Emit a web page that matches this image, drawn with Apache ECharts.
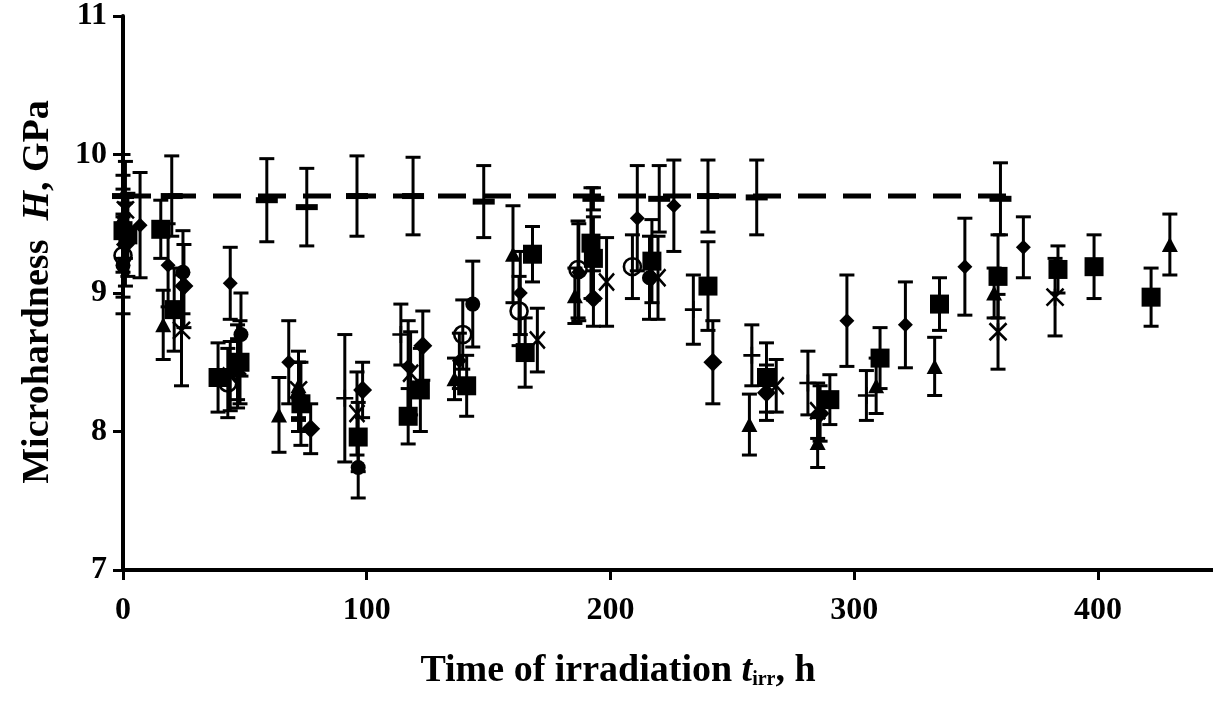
<!DOCTYPE html>
<html><head><meta charset="utf-8">
<script src="https://cdn.jsdelivr.net/npm/echarts@6/dist/echarts.min.js"></script>
<style>html,body{margin:0;padding:0;background:#fff}#c{width:1213px;height:702px}</style>
</head><body><div id="c"></div>
<script>
// ---- data: [time h, microhardness GPa, error GPa] ----
const xTicks = [0, 100, 200, 300, 400];
const yTicks = [7, 8, 9, 10, 11];
const xMax = 447.2;
const refLevel = 9.7;
const refLineRange = [0, 364];
const refPoints = [[0,9.70,0.30],[20,9.70,0.29],[59,9.67,0.30],[75.4,9.62,0.28],[96,9.70,0.29],[119,9.70,0.28],[148,9.66,0.26],[193,9.68,0.08],[220,9.68,0.24],[240,9.70,0.26],[260,9.69,0.27],[360,9.68,0.26]];
const squares = [[0,9.45,0.30],[2,9.42,0.30],[15.5,9.46,0.21],[21,8.88,0.30],[39,8.39,0.25],[48,8.50,0.30],[73,8.20,0.30],[96.5,7.96,0.25],[117,8.11,0.20],[122,8.30,0.30],[141,8.33,0.22],[165,8.57,0.25],[168,9.28,0.20],[192,9.36,0.40],[193,9.25,0.30],[217,9.23,0.30],[240,9.05,0.32],[264,8.39,0.25],[290,8.23,0.18],[310.6,8.53,0.22],[335,8.92,0.19],[359,9.12,0.30],[383.6,9.17,0.17],[398.4,9.19,0.23],[421.8,8.97,0.21]];
const triangles = [[0,9.55,0.30],[16.5,8.77,0.25],[47,8.45,0.22],[64,8.12,0.27],[72,8.33,0.25],[136,8.38,0.15],[160,9.28,0.35],[185.4,8.98,0.20],[257,8.05,0.22],[285,7.92,0.18],[309,8.33,0.20],[333,8.47,0.21],[357.4,9.00,0.18],[429.5,9.35,0.22]];
const smallDiamonds = [[7,9.49,0.38],[18.5,9.20,0.30],[44,9.07,0.26],[68,8.50,0.30],[117,8.47,0.33],[138,8.51,0.20],[163,9.00,0.30],[187,9.15,0.35],[211,9.54,0.38],[226,9.63,0.33],[297,8.80,0.33],[321,8.77,0.31],[345.4,9.19,0.35],[369.4,9.33,0.22]];
const largeDiamonds = [[1,9.35,0.30],[25,9.05,0.30],[77,8.02,0.18],[98.3,8.30,0.20],[123,8.62,0.25],[193,8.96,0.20],[242,8.50,0.30],[264,8.28,0.20],[286,8.13,0.20]];
const filledCircles = [[0,9.20,0.35],[24.6,9.15,0.30],[48.4,8.70,0.30],[72,8.25,0.25],[96.5,7.74,0.22],[143.5,8.92,0.31],[216,9.11,0.30]];
const openCircles = [[0,9.27,0.30],[43,8.35,0.25],[139.4,8.70,0.25],[162.5,8.87,0.25],[186.7,9.17,0.35],[209,9.19,0.23]];
const crosses = [[44,8.40,0.25],[96,8.13,0.30],[118,8.42,0.30],[170,8.66,0.23],[198.4,9.08,0.32],[219.5,9.11,0.30],[268,8.33,0.19],[285,8.15,0.20]];
const asterisks = [[1,9.60,0.35],[24,8.73,0.40],[47,8.47,0.30],[72,8.30,0.20],[359,8.72,0.27],[382.4,8.97,0.28]];
const pluses = [[91,8.24,0.46],[114,8.70,0.22],[234,8.88,0.25],[258,8.55,0.22],[281,8.35,0.23],[305,8.26,0.18]];

const FONT = '"Liberation Serif", "Times New Roman", serif';
const allSets = [refPoints, squares, triangles, smallDiamonds, largeDiamonds, filledCircles, openCircles, crosses, asterisks, pluses];
const errData = [];
allSets.forEach(s => s.forEach(p => errData.push([p[0], p[1] - p[2], p[1] + p[2]])));
const pts = s => s.map(p => [p[0], p[1]]);

const chart = echarts.init(document.getElementById('c'), null, {renderer: 'canvas'});
const stroke = {color: 'transparent', borderColor: '#000', borderWidth: 2.6, opacity: 1};
const fill = {color: '#000', opacity: 1};
function sc(data, symbol, size, style) {
  return {type: 'scatter', data: pts(data), symbol: symbol, symbolSize: size, itemStyle: style, z: 4, silent: true, animation: false};
}
chart.setOption({
  animation: false,
  backgroundColor: '#fff',
  grid: {left: 123, right: 0, top: 15, bottom: 132, containLabel: false},
  xAxis: {
    type: 'value', min: 0, max: xMax, interval: 100,
    axisLine: {onZero: false, lineStyle: {color: '#000', width: 4}},
    axisTick: {length: 10, customValues: xTicks, lineStyle: {color: '#000', width: 3}},
    axisLabel: {margin: 25, customValues: xTicks, color: '#000', fontFamily: FONT, fontWeight: 'bold', fontSize: 32,
      formatter: v => xTicks.indexOf(v) >= 0 ? String(v) : ''},
    splitLine: {show: false}
  },
  yAxis: {
    type: 'value', min: 7, max: 11, interval: 1,
    axisLine: {show: true, onZero: false, lineStyle: {color: '#000', width: 4}},
    axisTick: {show: true, length: 10, lineStyle: {color: '#000', width: 3}},
    axisLabel: {margin: 16, color: '#000', fontFamily: FONT, fontWeight: 'bold', fontSize: 32,
      formatter: v => yTicks.indexOf(v) >= 0 ? String(v) : ''},
    splitLine: {show: false}
  },
  graphic: [
    {type: 'text', x: 618, y: 671, style: {
      text: '{n|Time of irradiation }{i|t}{s|irr}{n|, h}', align: 'center', verticalAlign: 'middle',
      rich: {
        n: {fontFamily: FONT, fontWeight: 'bold', fontSize: 38, fill: '#000'},
        i: {fontFamily: FONT, fontWeight: 'bold', fontStyle: 'italic', fontSize: 38, fill: '#000'},
        s: {fontFamily: FONT, fontWeight: 'bold', fontSize: 20, fill: '#000', verticalAlign: 'bottom', padding: [16, 0, 0, 0]}
      }}},
    {type: 'text', x: 38, y: 292, rotation: Math.PI / 2, style: {
      text: '{n|Microhardness  }{i|H}{n|, GPa}', align: 'center', verticalAlign: 'middle',
      rich: {
        n: {fontFamily: FONT, fontWeight: 'bold', fontSize: 38, fill: '#000'},
        i: {fontFamily: FONT, fontWeight: 'bold', fontStyle: 'italic', fontSize: 38, fill: '#000'}
      }}}
  ],
  series: [
    {type: 'line', data: [[refLineRange[0], refLevel], [refLineRange[1], refLevel]], symbol: 'none',
     lineStyle: {color: '#000', width: 5, type: [28, 17]}, z: 1, silent: true},
    {type: 'custom', z: 3, silent: true, data: errData, encode: {x: 0, y: [1, 2]},
     renderItem: function (params, api) {
       const x = api.value(0), lo = api.value(1), hi = api.value(2);
       const a = api.coord([x, hi]), b = api.coord([x, lo]);
       const w = 7.5, st = {stroke: '#000', lineWidth: 3};
       return {type: 'group', children: [
         {type: 'line', shape: {x1: a[0], y1: a[1], x2: b[0], y2: b[1]}, style: st},
         {type: 'line', shape: {x1: a[0] - w, y1: a[1], x2: a[0] + w, y2: a[1]}, style: st},
         {type: 'line', shape: {x1: b[0] - w, y1: b[1], x2: b[0] + w, y2: b[1]}, style: st}
       ]};
     }},
    sc(refPoints, 'rect', [22, 6], fill),
    sc(squares, 'rect', 19, fill),
    sc(triangles, 'triangle', [16, 15], fill),
    sc(smallDiamonds, 'diamond', 15, fill),
    sc(largeDiamonds, 'diamond', 19, fill),
    sc(filledCircles, 'circle', 15, fill),
    sc(openCircles, 'circle', 17, stroke),
    sc(crosses, 'path://M0,0L10,10M10,0L0,10', [15, 17], stroke),
    sc(asterisks, 'path://M0,0L10,10M10,0L0,10M5,0L5,10', [17, 17], stroke),
    sc(pluses, 'path://M0,5L10,5M5,0L5,10', [17, 17], stroke)
  ]
});
</script></body></html>
